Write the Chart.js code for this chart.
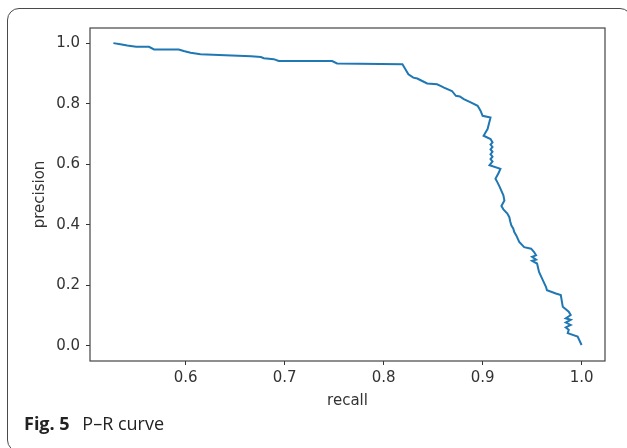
<!DOCTYPE html>
<html>
<head>
<meta charset="utf-8">
<script src="https://cdn.jsdelivr.net/npm/chart.js@4/dist/chart.umd.min.js"></script>
<style>
  html, body { margin: 0; padding: 0; background: #fff; overflow: hidden; }
  #wrap { position: relative; width: 627px; height: 448px; }
  #frame {
    position: absolute; left: 7px; top: 8px; width: 625px; height: 444px;
    box-sizing: border-box; border: 1.3px solid #4a4a4a; border-radius: 12px;
  }
  #chart { position: absolute; left: 0; top: 0; }
  #caption {
    position: absolute; left: 24px; top: 411px;
    font-family: "Open Sans", sans-serif; font-size: 18px; color: #222;
    white-space: nowrap;
  }
  #caption b { font-weight: 700; margin-right: 8px; }
</style>
</head>
<body>
<div id="wrap">
  <div id="frame"></div>
  <canvas id="chart" width="627" height="448"></canvas>
  <div id="caption"><b>Fig. 5</b> P–R curve</div>
</div>
<script>
// valores (recall x precision)
const recall = [
  0.527, 0.534, 0.541, 0.550, 0.563, 0.568, 0.593, 0.598, 0.605, 0.615,
  0.640, 0.666, 0.676, 0.679, 0.689, 0.694, 0.748, 0.753, 0.819, 0.822,
  0.825, 0.830, 0.834, 0.839, 0.844, 0.854, 0.858, 0.861, 0.869, 0.873,
  0.877, 0.881, 0.888, 0.895, 0.898, 0.900, 0.908, 0.905, 0.901, 0.908,
  0.910, 0.908, 0.910, 0.908, 0.910, 0.908, 0.910, 0.908, 0.910, 0.907,
  0.918, 0.916, 0.913, 0.915, 0.917, 0.919, 0.921, 0.922, 0.919, 0.921,
  0.925, 0.927, 0.928, 0.929, 0.931, 0.932, 0.934, 0.937, 0.942, 0.949,
  0.952, 0.954, 0.950, 0.954, 0.950, 0.955, 0.957, 0.960, 0.964, 0.965,
  0.974, 0.979, 0.981, 0.987, 0.989, 0.984, 0.989, 0.984, 0.989, 0.984,
  0.987, 0.986, 0.996, 1.000];
const precision = [
  1.000, 0.996, 0.992, 0.988, 0.988, 0.979, 0.979, 0.974, 0.968, 0.963,
  0.960, 0.957, 0.954, 0.950, 0.947, 0.941, 0.941, 0.933, 0.930, 0.914,
  0.897, 0.886, 0.883, 0.875, 0.867, 0.864, 0.858, 0.853, 0.842, 0.826,
  0.824, 0.815, 0.804, 0.793, 0.776, 0.760, 0.754, 0.716, 0.694, 0.683,
  0.672, 0.665, 0.657, 0.649, 0.641, 0.633, 0.625, 0.617, 0.609, 0.597,
  0.585, 0.570, 0.552, 0.540, 0.527, 0.512, 0.497, 0.480, 0.462, 0.451,
  0.437, 0.425, 0.410, 0.398, 0.387, 0.376, 0.365, 0.343, 0.326, 0.321,
  0.310, 0.299, 0.294, 0.285, 0.281, 0.272, 0.244, 0.223, 0.195, 0.184,
  0.173, 0.168, 0.129, 0.113, 0.102, 0.091, 0.086, 0.077, 0.069, 0.061,
  0.053, 0.042, 0.031, 0.003];
const xTicks = [0.6, 0.7, 0.8, 0.9, 1.0];
const yTicks = [0.0, 0.2, 0.4, 0.6, 0.8, 1.0];

const pontos = recall.map((r, i) => ({ x: r, y: precision[i] }));

// margens de 5% como no matplotlib
const xSpan = 1.0 - recall[0];
const xMin = recall[0] - 0.05 * xSpan;
const xMax = 1.0 + 0.05 * xSpan;
const yMin = -0.05, yMax = 1.05;

const tickFont = { family: 'DejaVu Sans', size: 15 };

// moldura dos 4 lados do gráfico
const moldura = {
    id: 'moldura',
    afterDraw(chart) {
        const { ctx, chartArea: a } = chart;
        ctx.save();
        ctx.strokeStyle = '#444';
        ctx.lineWidth = 1.2;
        ctx.strokeRect(a.left, a.top, a.right - a.left, a.bottom - a.top);
        ctx.restore();
    }
};

new Chart(document.getElementById('chart'), {
    type: 'scatter',
    data: {
        datasets: [{
            data: pontos,
            showLine: true,
            borderColor: '#1f77b4',
            borderWidth: 2,
            pointRadius: 0,
            tension: 0
        }]
    },
    options: {
        responsive: false,
        animation: false,
        devicePixelRatio: 1,
        layout: { padding: { left: 0, right: 22, top: 28, bottom: 0 } },
        plugins: { legend: { display: false }, tooltip: { enabled: false } },
        scales: {
            x: {
                type: 'linear', min: xMin, max: xMax,
                afterFit: (s) => { s.height = 87; },
                afterBuildTicks: (s) => { s.ticks = xTicks.map(v => ({ value: v })); },
                border: { display: false },
                grid: { drawOnChartArea: false, drawTicks: true, tickLength: 4, color: '#333' },
                ticks: { font: tickFont, color: '#333', padding: 4, callback: v => v.toFixed(1) },
                title: { display: true, text: 'recall', font: tickFont, color: '#333', padding: { top: 0, bottom: 38 } }
            },
            y: {
                type: 'linear', min: yMin, max: yMax,
                afterFit: (s) => { s.width = 90; },
                afterBuildTicks: (s) => { s.ticks = yTicks.map(v => ({ value: v })); },
                border: { display: false },
                grid: { drawOnChartArea: false, drawTicks: true, tickLength: 4, color: '#333' },
                ticks: { font: tickFont, color: '#333', padding: 6, callback: v => v.toFixed(1) },
                title: { display: true, text: 'precision', font: tickFont, color: '#333', padding: { top: 31, bottom: 0 } }
            }
        }
    },
    plugins: [moldura]
});
</script>
</body>
</html>
